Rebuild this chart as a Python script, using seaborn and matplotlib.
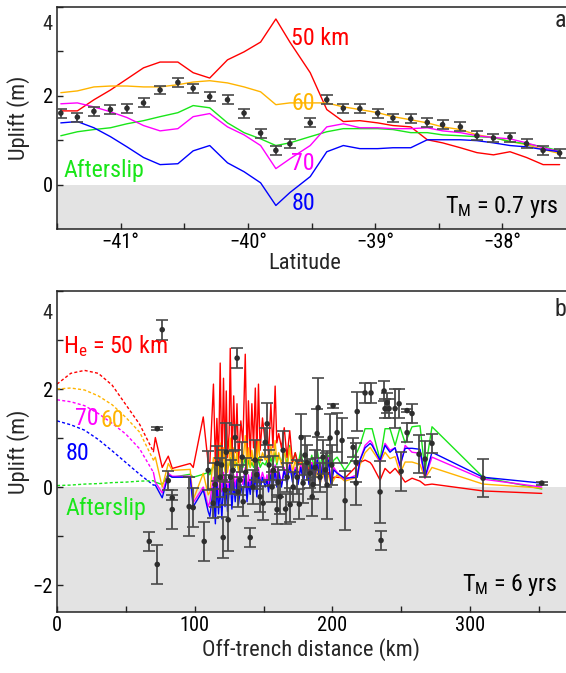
import matplotlib
matplotlib.use("Agg")
import matplotlib.pyplot as plt
import matplotlib.transforms as mtransforms
from matplotlib import font_manager
import seaborn as sns

# ---------------- panel a: uplift versus latitude (T_M = 0.7 yrs) ----------------
lat = [-41.47, -41.34, -41.21, -41.08, -40.95, -40.82, -40.69, -40.55, -40.43, -40.30,
       -40.16, -40.03, -39.90, -39.78, -39.67, -39.51, -39.38, -39.25, -39.12, -38.98,
       -38.86, -38.72, -38.59, -38.47, -38.33, -38.20, -38.07, -37.94, -37.81, -37.68,
       -37.55]
obs_a = [1.61, 1.52, 1.65, 1.69, 1.72, 1.84, 2.13, 2.30, 2.17, 1.98,
         1.91, 1.61, 1.16, 0.77, 0.92, 1.39, 1.91, 1.72, 1.71, 1.61,
         1.50, 1.48, 1.40, 1.35, 1.30, 1.10, 1.05, 1.07, 0.92, 0.77,
         0.71]
err_a = [0.10, 0.10, 0.10, 0.10, 0.10, 0.10, 0.10, 0.10, 0.10, 0.10,
         0.10, 0.10, 0.10, 0.10, 0.10, 0.10, 0.10, 0.10, 0.10, 0.10,
         0.10, 0.10, 0.10, 0.10, 0.10, 0.10, 0.10, 0.10, 0.10, 0.10,
         0.10]
he50_a = [1.66, 1.66, 1.91, 2.13, 2.38, 2.63, 2.76, 2.76, 2.52, 2.40,
          2.81, 2.99, 3.21, 3.73, 3.21, 2.52, 1.69, 1.42, 1.44, 1.39,
          1.33, 1.30, 1.01, 0.94, 0.83, 0.72, 0.67, 0.74, 0.61, 0.45,
          0.45]
he60_a = [2.07, 2.11, 2.20, 2.22, 2.22, 2.20, 2.20, 2.25, 2.31, 2.34,
          2.29, 2.20, 2.09, 1.80, 1.84, 1.84, 1.84, 1.75, 1.69, 1.62,
          1.53, 1.46, 1.39, 1.30, 1.24, 1.12, 1.06, 0.97, 0.90, 0.79,
          0.70]
he70_a = [1.82, 1.84, 1.75, 1.64, 1.51, 1.33, 1.21, 1.26, 1.53, 1.60,
          1.30, 1.12, 0.88, 0.36, 0.58, 0.88, 1.30, 1.37, 1.28, 1.28,
          1.26, 1.26, 1.28, 1.21, 1.17, 1.10, 1.06, 1.03, 0.94, 0.83,
          0.74]
he80_a = [1.39, 1.42, 1.28, 1.08, 0.85, 0.61, 0.45, 0.47, 0.76, 0.88,
          0.49, 0.29, 0.04, -0.47, -0.18, 0.18, 0.74, 0.88, 0.81, 0.81,
          0.83, 0.83, 1.01, 1.01, 1.01, 0.99, 0.94, 0.88, 0.85, 0.79,
          0.74]
afterslip_a = [1.10, 1.19, 1.24, 1.28, 1.37, 1.44, 1.53, 1.62, 1.78, 1.73,
               1.39, 1.17, 1.03, 0.88, 0.94, 1.08, 1.19, 1.26, 1.26, 1.26,
               1.24, 1.17, 1.17, 1.12, 1.10, 1.08, 1.06, 0.97, 0.92, 0.85,
               0.76]
lat_ticks = [-41.5, -41.0, -40.5, -40.0, -39.5, -39.0, -38.5, -38.0]
lat_labels = ["", "\u221241\u00b0", "", "\u221240\u00b0", "", "\u221239\u00b0", "", "\u221238\u00b0"]

# ---------------- panel b: uplift versus off-trench distance (T_M = 6 yrs) ----------------
# near-trench model curves (dashed)
dist_dash = [0, 10, 20, 30, 40, 50, 60, 70]
he50_dash = [2.10, 2.32, 2.38, 2.32, 2.08, 1.68, 1.28, 0.72]
he60_dash = [2.00, 2.02, 1.98, 1.86, 1.68, 1.42, 1.12, 0.55]
he70_dash = [1.78, 1.74, 1.66, 1.50, 1.30, 1.08, 0.78, 0.30]
he80_dash = [1.35, 1.27, 1.16, 0.97, 0.74, 0.50, 0.26, 0.04]
afterslip_dash = [0.03, 0.04, 0.06, 0.07, 0.09, 0.10, 0.12, 0.13]

# model predictions at the on-land stations (solid)
dist_sta = [70, 71.4, 76.4, 80.8, 83.7, 96.7, 98.9, 106.2, 109.8,
            111, 113.6, 115, 116.1, 117.3, 118.5, 119.7, 120.9, 122, 122.9,
            123.8, 125, 125.8, 127, 128.3, 129.4, 130.7, 131.8, 133.5, 135,
            136.7, 138, 139, 140.3, 141.5, 142.7, 144, 145.1, 146.3, 147.5,
            149.2, 151.2, 152.5, 153.6, 155.3, 156.8, 158.4, 159.6, 161, 163,
            165, 167, 169, 171, 173, 175, 177, 179, 181, 183,
            185, 187, 189, 191, 193, 195, 197, 199, 201,
            203.4, 209, 218, 220, 223.7, 227.4, 228.8, 234.6, 238.2, 241.8,
            245.5, 249.1, 252.8, 257.8, 263.6, 267.2, 272.3, 309.4, 352]
he50_b = [0.72, 1.01, 0.40, 0.63, 0.38, 0.48, 0.40, 1.43, 0.48,
          0.50, 2.10, 0.45, 1.40, 0.50, 2.53, 0.35, 2.22, 0.50, 1.96,
          0.60, 1.10, 2.83, 0.55, 1.86, 0.70, 1.70, 0.50, 1.35, 0.90,
          2.71, 0.55, 1.76, 0.60, 1.70, 0.80, 2.02, 0.60, 2.10, 0.75,
          1.41, 0.90, 1.15, 0.65, 1.70, 0.80, 2.06, 0.90, 1.09, 0.80,
          1.21, 0.60, 1.15, 0.50, 0.70, 0.45, 0.60, 0.35, 0.55, 0.30,
          0.50, 0.25, 0.45, 0.20, 0.35, 0.15, 0.30, 0.12, 0.20,
          0.20, 0.18, 0.44, 0.50, 0.55, 0.50, 0.45, 0.14, 0.38, 0.28,
          0.38, 0.25, 0.10, 0.18, 0.12, 0.04, 0.06, -0.08, -0.13]
he60_b = [0.55, 0.61, 0.00, 0.48, 0.34, 0.36, -0.26, 0.28, -0.16,
          -0.10, 0.60, 0.00, 0.70, 0.10, 0.90, 0.20, 0.80, 0.30, 0.70,
          0.30, 0.50, 1.00, 0.30, 0.80, 0.40, 0.75, 0.30, 0.60, 0.50,
          1.05, 0.35, 0.80, 0.40, 0.75, 0.45, 0.90, 0.40, 0.95, 0.50,
          0.70, 0.55, 0.65, 0.40, 0.85, 0.50, 0.95, 0.50, 0.70, 0.45,
          0.75, 0.35, 0.80, 0.30, 0.55, 0.25, 0.50, 0.20, 0.45, 0.15,
          0.40, 0.10, 0.35, 0.05, 0.30, 0.10, 0.25, 0.05, 0.15,
          0.25, 0.12, 0.20, 0.45, 0.70, 0.81, 0.75, 0.51, 0.71, 0.58,
          0.62, 0.28, 0.51, 0.51, 0.46, 0.18, 0.40, 0.06, -0.02]
he70_b = [0.30, 0.10, -0.12, 0.28, 0.22, 0.22, -0.32, 0.00, -0.40,
          -0.30, 0.20, -0.20, 0.30, -0.30, 0.25, -0.10, 0.30, -0.20, 0.20,
          -0.05, 0.10, 0.35, -0.10, 0.25, 0.00, 0.30, -0.15, 0.20, 0.05,
          0.40, -0.10, 0.25, 0.00, 0.30, 0.05, 0.35, 0.00, 0.40, 0.10,
          0.30, 0.10, 0.25, 0.00, 0.35, 0.10, 0.45, 0.10, 0.35, 0.05,
          0.40, 0.10, 0.50, 0.15, 0.40, 0.10, 0.45, 0.15, 0.55, 0.10,
          0.50, 0.15, 0.60, 0.10, 0.55, 0.15, 0.60, 0.10, 0.40,
          0.30, 0.15, 0.25, 0.55, 0.85, 0.95, 0.90, 0.50, 0.89, 0.75,
          0.80, 0.40, 0.85, 0.71, 0.69, 0.18, 0.61, 0.16, 0.00]
he80_b = [0.04, 0.04, -0.22, 0.24, 0.20, 0.20, -0.40, -0.06, -0.50,
          -0.60, 0.00, -0.75, 0.10, -0.55, 0.05, -0.65, 0.10, -0.40, 0.05,
          -0.50, -0.10, 0.20, -0.45, 0.10, -0.30, 0.15, -0.35, 0.05, -0.20,
          0.25, -0.30, 0.10, -0.15, 0.20, -0.10, 0.25, -0.20, 0.30, -0.05,
          0.20, 0.00, 0.15, -0.10, 0.25, 0.00, 0.35, 0.00, 0.30, 0.00,
          0.35, 0.05, 0.45, 0.10, 0.35, 0.05, 0.40, 0.10, 0.50, 0.05,
          0.45, 0.10, 0.55, 0.05, 0.50, 0.10, 0.55, 0.05, 0.35,
          0.28, 0.18, 0.20, 0.55, 0.80, 0.89, 0.85, 0.55, 0.85, 0.71,
          0.80, 0.44, 0.79, 0.79, 0.77, 0.20, 0.71, 0.20, 0.08]
afterslip_b = [0.13, 0.10, 0.05, 0.26, 0.20, 0.26, 0.20, 0.26, 0.30,
               0.25, 0.45, 0.30, 0.50, 0.30, 0.55, 0.35, 0.50, 0.35, 0.55,
               0.40, 0.45, 0.60, 0.35, 0.55, 0.40, 0.50, 0.35, 0.45, 0.40,
               0.60, 0.35, 0.55, 0.40, 0.50, 0.40, 0.55, 0.35, 0.60, 0.40,
               0.50, 0.45, 0.55, 0.40, 0.60, 0.45, 0.70, 0.45, 0.65, 0.50,
               0.75, 0.45, 0.85, 0.50, 0.70, 0.45, 0.75, 0.40, 0.70, 0.40,
               0.65, 0.35, 0.75, 0.40, 0.70, 0.35, 0.65, 0.40, 0.55,
               0.61, 0.34, 0.72, 0.85, 1.19, 1.19, 1.19, 0.55, 1.19, 1.19,
               0.85, 1.22, 0.90, 1.23, 1.25, 0.32, 1.23, 0.20, -0.04]

# observed GPS uplift with 1-sigma errors
dist_obs = [67.0, 72.8, 72.8, 76.4, 80.8, 83.7, 83.7, 96.0, 98.9, 106.9,
            109.8, 113.4, 116.3, 118.5, 120.7, 122.1, 122.9, 124.3, 127.9, 129.4,
            130.8, 133.0, 134.5, 135.2, 140.3, 142.4, 143.9, 147.5, 149.7, 151.2,
            152.6, 156.2, 159.8, 157.0, 162.0, 164.2, 167.1, 169.3, 171.5, 174.4,
            177.3, 178.7, 181.6, 183.8, 185.3, 187.4, 188.9, 189.6, 191.0, 193.2,
            196.1, 198.3, 200.5, 203.4, 207.0, 209.2, 215.0, 217.2, 217.2, 218.0,
            223.7, 228.0, 234.6, 235.3, 237.5, 238.2, 239.7, 241.1, 245.5, 248.4,
            249.9, 254.2, 254.2, 257.8, 262.9, 267.3, 272.3, 309.4, 352.0,
            114.8, 119.5, 126.0, 131.5, 137.0, 145.0, 154.0, 160.5, 166.0, 176.0,
            180.0, 186.0, 195.0, 199.5]
obs_b = [-1.11, -1.58, 1.19, 3.21, 0.13, -0.22, -0.46, -0.40, -0.42, -1.11,
         0.34, -0.33, 0.48, 0.20, -1.03, -0.06, 0.71, -0.67, 0.34, 1.01,
         2.63, 0.14, 0.61, -0.30, -1.03, 0.00, 0.55, -0.20, -0.33, 0.91,
         1.29, 0.00, -0.46, 0.34, -0.20, 0.75, 0.20, -0.36, 0.00, 0.20,
         1.01, 0.08, 0.50, 0.28, -0.20, 0.40, 1.09, 1.62, 0.20, 0.61,
         0.04, 1.00, 1.66, 1.11, 0.95, -0.28, 0.81, 0.50, 0.08, 1.54,
         1.92, 1.92, -0.10, -1.09, 1.96, 1.60, 1.72, 1.60, 1.60, 1.70,
         0.32, 1.56, 1.11, 1.50, 0.67, 0.57, 0.89, 0.18, 0.08,
         0.05, 0.45, 0.20, -0.10, 0.30, 0.25, 0.45, 0.10, -0.45, -0.35,
         0.65, 0.05, 0.35, 0.45]
err_b = [0.20, 0.40, 0.03, 0.20, 0.20, 0.05, 0.40, 0.60, 0.40, 0.40,
         0.40, 0.30, 0.35, 0.40, 0.42, 0.30, 0.60, 0.64, 0.40, 0.25,
         0.20, 0.30, 0.30, 0.30, 0.20, 0.35, 0.40, 0.30, 0.35, 0.30,
         0.43, 0.30, 0.30, 0.30, 0.35, 0.40, 0.30, 0.35, 0.30, 0.35,
         0.47, 0.40, 0.35, 0.30, 0.40, 0.35, 0.50, 0.60, 0.30, 0.35,
         0.70, 0.50, 0.04, 0.40, 0.45, 0.60, 0.20, 0.40, 0.45, 0.40,
         0.20, 0.20, 0.63, 0.20, 0.20, 0.20, 0.20, 0.20, 0.40, 0.30,
         0.40, 0.03, 0.20, 0.20, 0.39, 0.37, 0.20, 0.39, 0.03,
         0.45, 0.30, 0.35, 0.30, 0.30, 0.30, 0.30, 0.30, 0.30, 0.30,
         0.40, 0.30, 0.35, 0.40]
dist_ticks = [0, 50, 100, 150, 200, 250, 300, 350]
dist_labels = ["0", "", "100", "", "200", "", "300", ""]

# ---------------- style ----------------
sns.set_theme(style="ticks")
available = {f.name for f in font_manager.fontManager.ttflist}
preferred = ["Liberation Sans Narrow", "Roboto Condensed", "Archivo Narrow",
             "PT Sans Narrow", "Open Sans Condensed", "Liberation Sans"]
base_font = next((n for n in preferred if n in available), "DejaVu Sans")
plt.rcParams["font.family"] = [base_font, "DejaVu Sans"]
plt.rcParams["mathtext.fontset"] = "custom"
plt.rcParams["mathtext.rm"] = base_font
plt.rcParams["mathtext.it"] = base_font + ":italic"
plt.rcParams["axes.unicode_minus"] = True

RED, ORANGE, MAGENTA, BLUE, GREEN = "#ff0000", "#ffb400", "#ff00ff", "#0000ff", "#19e619"
SHADE = "#e3e3e3"
INK = "#222222"
TICK_FS, LABEL_FS, NOTE_FS = 14.7, 16.2, 17.3
LW = 1.0

fig = plt.figure(figsize=(5.66, 6.73), dpi=100)
ax_a = fig.add_axes([57 / 566, 1 - 229 / 673, 1 - 57 / 566, 222 / 673])
ax_b = fig.add_axes([57 / 566, 1 - 612 / 673, 1 - 57 / 566, 321 / 673])


def frame(ax):
    for side in ("top", "left", "bottom"):
        ax.spines[side].set_linewidth(1.1)
        ax.spines[side].set_color(INK)
    ax.spines["right"].set_visible(False)
    ax.tick_params(direction="in", length=4.5, width=1.0, color=INK, pad=3,
                   labelsize=TICK_FS, labelcolor="black")
    ax.set_facecolor("white")
    ax.grid(False)


def line(ax, x, y, color, dashed=False, z=2):
    sns.lineplot(x=x, y=y, ax=ax, color=color, linewidth=LW, sort=False,
                 estimator=None, zorder=z,
                 linestyle=(0, (2.2, 1.6)) if dashed else "-")


def observations(ax, x, y, e, cap):
    ax.errorbar(x, y, yerr=e, fmt="none", ecolor="#4a4a4a", elinewidth=1.3,
                capsize=cap, capthick=1.2, zorder=6)
    sns.scatterplot(x=x, y=y, ax=ax, color="#2e2e2e", s=16, edgecolor="none",
                    zorder=7, legend=False)


# ---------- panel a ----------
ax = ax_a
frame(ax)
ax.axhspan(-1.0, 0.0, color=SHADE, zorder=0, lw=0)
line(ax, lat, he50_a, RED)
line(ax, lat, he60_a, ORANGE)
line(ax, lat, afterslip_a, GREEN)
line(ax, lat, he70_a, MAGENTA)
line(ax, lat, he80_a, BLUE)
observations(ax, lat, obs_a, err_a, 4.2)
ax.set_xlim(-41.5, -37.5)
ax.set_ylim(-1.0, 4.0)
ax.set_xticks(lat_ticks, lat_labels)
ax.set_yticks([0, 1, 2, 3, 4], ["0", "", "2", "", ""])
ylab_tf = mtransforms.blended_transform_factory(ax.transAxes, ax.transData)
ax.text(-0.008, 3.6, "4", transform=ylab_tf, ha="right", va="center", fontsize=TICK_FS)
ax.set_xlabel("Latitude", fontsize=LABEL_FS)
ax.set_ylabel("Uplift (m)", fontsize=LABEL_FS)
ax.xaxis.set_label_coords(0.486, -0.11)
ax.yaxis.set_label_coords(-0.054, 0.5)
ax.text(-39.43, 3.15, "50 km", color=RED, fontsize=NOTE_FS, ha="center", va="baseline", zorder=9)
ax.text(-39.565, 1.67, "60", color=ORANGE, fontsize=NOTE_FS, ha="center", va="baseline", zorder=9)
ax.text(-39.565, 0.34, "70", color=MAGENTA, fontsize=NOTE_FS, ha="center", va="baseline", zorder=9)
ax.text(-39.565, -0.58, "80", color=BLUE, fontsize=NOTE_FS, ha="center", va="baseline", zorder=9)
ax.text(-41.45, 0.16, "Afterslip", color=GREEN, fontsize=NOTE_FS, ha="left", va="baseline", zorder=9)
ax.text(-37.56, -0.65, r"T$_\mathrm{M}$ = 0.7 yrs", color="black", fontsize=NOTE_FS,
        ha="right", va="baseline", zorder=9)
ax.text(0.988, 3.56, "a", transform=ylab_tf, fontsize=NOTE_FS, ha="center", va="baseline")

# ---------- panel b ----------
ax = ax_b
frame(ax)
ax.axhspan(-2.55, 0.0, color=SHADE, zorder=0, lw=0)
line(ax, dist_dash, he50_dash, RED, dashed=True)
line(ax, dist_dash, he60_dash, ORANGE, dashed=True)
line(ax, dist_dash, he70_dash, MAGENTA, dashed=True)
line(ax, dist_dash, he80_dash, BLUE, dashed=True)
line(ax, dist_dash, afterslip_dash, GREEN, dashed=True)
line(ax, dist_sta, afterslip_b, GREEN)
line(ax, dist_sta, he50_b, RED)
line(ax, dist_sta, he60_b, ORANGE)
line(ax, dist_sta, he70_b, MAGENTA)
line(ax, dist_sta, he80_b, BLUE)
observations(ax, dist_obs, obs_b, err_b, 4.2)
ax.set_xlim(0, 369.6)
ax.set_ylim(-2.55, 4.0)
ax.set_xticks(dist_ticks, dist_labels)
ax.set_yticks([-2, -1, 0, 1, 2, 3, 4], ["\u22122", "", "0", "", "2", "", ""])
ylab_tf_b = mtransforms.blended_transform_factory(ax.transAxes, ax.transData)
ax.text(-0.008, 3.55, "4", transform=ylab_tf_b, ha="right", va="center", fontsize=TICK_FS)
ax.set_xlabel("Off-trench distance (km)", fontsize=LABEL_FS)
ax.set_ylabel("Uplift (m)", fontsize=LABEL_FS)
ax.xaxis.set_label_coords(0.5, -0.08)
ax.yaxis.set_label_coords(-0.054, 0.5)
ax.text(4.6, 2.74, r"H$_\mathrm{e}$ = 50 km", color=RED, fontsize=NOTE_FS, ha="left", va="baseline", zorder=9)
ax.text(22.0, 1.26, "70", color=MAGENTA, fontsize=NOTE_FS, ha="center", va="baseline", zorder=9)
ax.text(40.1, 1.22, "60", color=ORANGE, fontsize=NOTE_FS, ha="center", va="baseline", zorder=9)
ax.text(15.1, 0.55, "80", color=BLUE, fontsize=NOTE_FS, ha="center", va="baseline", zorder=9)
ax.text(6.0, -0.57, "Afterslip", color=GREEN, fontsize=NOTE_FS, ha="left", va="baseline", zorder=9)
ax.text(362.8, -2.12, r"T$_\mathrm{M}$ = 6 yrs", color="black", fontsize=NOTE_FS,
        ha="right", va="baseline", zorder=9)
ax.text(0.988, 3.49, "b", transform=ylab_tf_b, fontsize=NOTE_FS, ha="center", va="baseline")

fig.savefig("out.png", dpi=100)
